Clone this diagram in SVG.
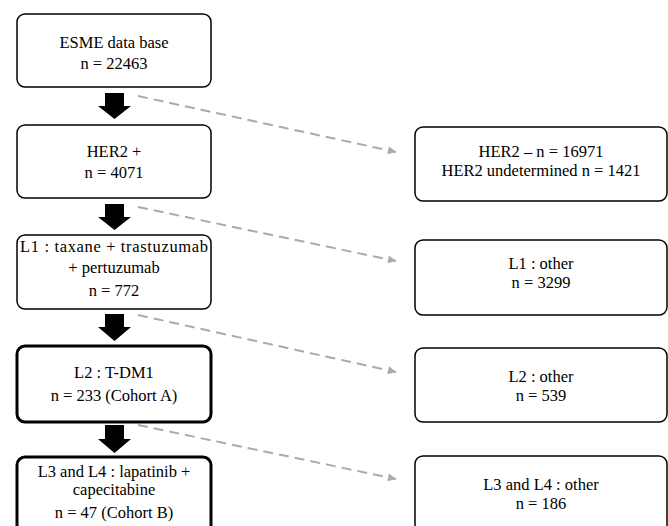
<svg xmlns="http://www.w3.org/2000/svg" width="668" height="526" viewBox="0 0 668 526">
<defs>
<style>
.box{fill:#fff;stroke:#000;stroke-width:1.5}
.thick{stroke-width:3}
.t{font-family:"Liberation Serif","Times New Roman",serif;font-size:16.5px;fill:#000;text-anchor:middle}
.dash{fill:none;stroke:#aaaaaa;stroke-width:2;stroke-dasharray:10 6}
.blk{fill:#000}
</style>
<marker id="ah" viewBox="0 0 10 10" refX="10" refY="5" markerWidth="9" markerHeight="8" markerUnits="userSpaceOnUse" orient="auto">
<path d="M0,0 L10,5 L0,10 Z" fill="#aaaaaa"/>
</marker>
</defs>
<rect width="668" height="526" fill="#fff"/>
<g id="connectors">
<path class="blk" d="M105,93 H124 V106 H131 L114.5,119 L98,106 H105 Z"/>
<path class="blk" d="M105,204 H124 V217 H131 L114.5,230 L98,217 H105 Z"/>
<path class="blk" d="M105,314 H124 V327 H131 L114.5,341 L98,327 H105 Z"/>
<path class="blk" d="M105,425 H124 V439 H131 L114.5,453 L98,439 H105 Z"/>
<line class="dash" x1="138" y1="96" x2="396" y2="152" marker-end="url(#ah)"/>
<line class="dash" x1="138" y1="207" x2="396" y2="261" marker-end="url(#ah)"/>
<line class="dash" x1="138" y1="315" x2="396" y2="372" marker-end="url(#ah)"/>
<line class="dash" x1="138" y1="425" x2="396" y2="479" marker-end="url(#ah)"/>
</g>
<g id="esme">
<rect class="box" x="17" y="14" width="194" height="73" rx="8"/>
<text class="t" x="114" y="47.5">ESME data base</text>
<text class="t" x="114" y="68.5">n = 22463</text>
</g>
<g id="her2pos">
<rect class="box" x="17" y="125" width="194" height="73" rx="8"/>
<text class="t" x="114" y="157">HER2 +</text>
<text class="t" x="114" y="178">n = 4071</text>
</g>
<g id="l1">
<rect class="box" x="17" y="235" width="194" height="74" rx="8"/>
<text class="t" x="114" y="252" textLength="188" lengthAdjust="spacing">L1 : taxane + trastuzumab</text>
<text class="t" x="114" y="273">+ pertuzumab</text>
<text class="t" x="114" y="296">n = 772</text>
</g>
<g id="l2">
<rect class="box thick" x="17" y="346" width="194" height="76" rx="8"/>
<text class="t" x="114" y="378">L2 : T-DM1</text>
<text class="t" x="114" y="401">n = 233 (Cohort A)</text>
</g>
<g id="l3l4">
<rect class="box thick" x="17" y="457" width="194" height="80" rx="8"/>
<text class="t" x="114" y="477">L3 and L4 : lapatinib +</text>
<text class="t" x="114" y="495">capecitabine</text>
<text class="t" x="114" y="518">n = 47 (Cohort B)</text>
</g>
<g id="her2neg">
<rect class="box" x="415" y="127" width="252" height="74" rx="8"/>
<text class="t" x="541" y="157">HER2 – n = 16971</text>
<text class="t" x="541" y="176">HER2 undetermined n = 1421</text>
</g>
<g id="l1other">
<rect class="box" x="415" y="240" width="252" height="75" rx="8"/>
<text class="t" x="541" y="269">L1 : other</text>
<text class="t" x="541" y="288">n = 3299</text>
</g>
<g id="l2other">
<rect class="box" x="415" y="348" width="252" height="74" rx="8"/>
<text class="t" x="541" y="382">L2 : other</text>
<text class="t" x="541" y="401">n = 539</text>
</g>
<g id="l3l4other">
<rect class="box" x="415" y="456" width="252" height="80" rx="8"/>
<text class="t" x="541" y="490">L3 and L4 : other</text>
<text class="t" x="541" y="509">n = 186</text>
</g>
</svg>
